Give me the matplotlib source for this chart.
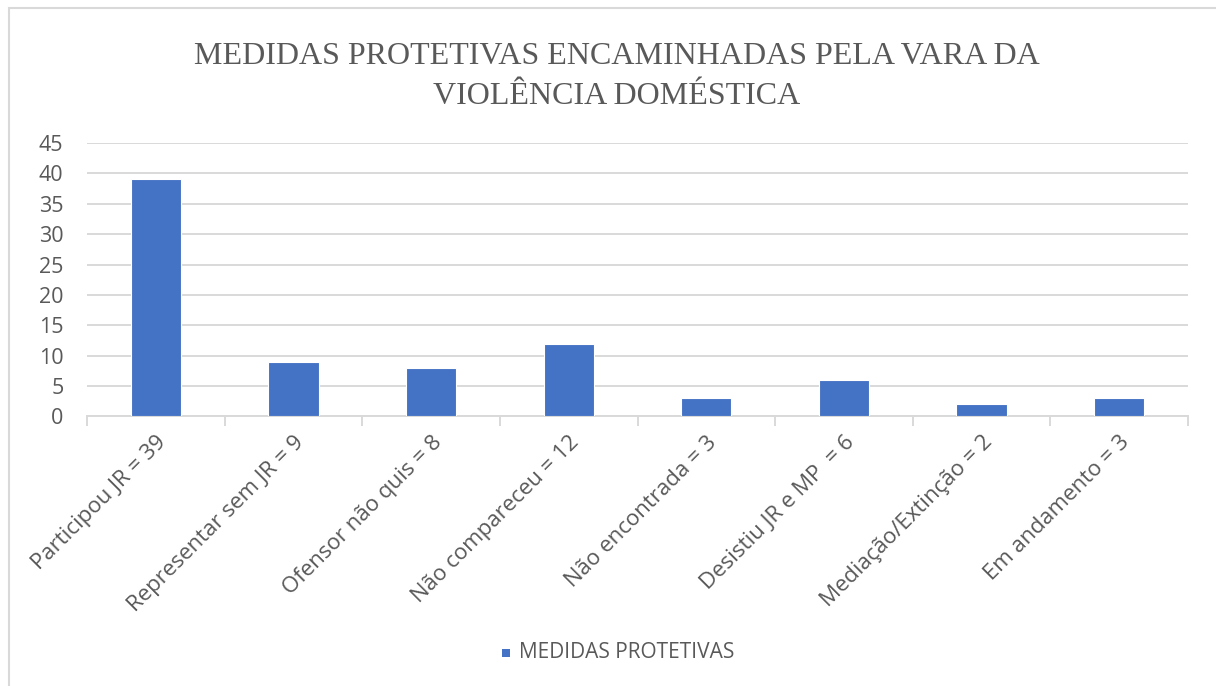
import matplotlib
matplotlib.use("Agg")
import matplotlib.pyplot as plt
from matplotlib.patches import Rectangle
import numpy as np

title = "MEDIDAS PROTETIVAS ENCAMINHADAS PELA VARA DA\nVIOLÊNCIA DOMÉSTICA"
categories = ["Participou JR = 39", "Representar sem JR = 9", "Ofensor não quis = 8",
              "Não compareceu = 12", "Não encontrada = 3", "Desistiu JR e MP  = 6",
              "Mediação/Extinção = 2", "Em andamento = 3"]
values = [39, 9, 8, 12, 3, 6, 2, 3]
series_name = "MEDIDAS PROTETIVAS"
yticks = [0, 5, 10, 15, 20, 25, 30, 35, 40, 45]

W, H = 1216, 686
fig = plt.figure(figsize=(W / 100, H / 100), dpi=100)
fig.patch.set_facecolor("white")

# chart frame (top & left visible)
fig.add_artist(Rectangle((9 / W, -0.1), 1.2, (H - 8) / H + 0.1, transform=fig.transFigure,
                         fill=False, edgecolor="#d9d9d9", linewidth=1.5))

left, right, top, bottom = 87, 1188, 143, 416.5
ax = fig.add_axes([left / W, 1 - bottom / H, (right - left) / W, (bottom - top) / H])

x = np.arange(len(categories))
ax.bar(x, values, width=0.365, color="#4472C4", edgecolor="white", linewidth=0.8, zorder=3)
ax.set_xlim(-0.5, len(categories) - 0.5)
ax.set_ylim(0, 45)
ax.set_yticks(yticks)
ax.yaxis.grid(True, color="#d9d9d9", linewidth=1.4, zorder=0)
ax.set_axisbelow(True)
for s in ["top", "right", "left"]:
    ax.spines[s].set_visible(False)
ax.spines["bottom"].set_color("#d9d9d9")
ax.spines["bottom"].set_linewidth(1.4)
ax.tick_params(axis="y", length=0, pad=17, labelsize=15.5, labelcolor="#595959")
for lab in ax.get_yticklabels():
    lab.set_fontfamily("Open Sans")

# category boundaries ticks
ax.set_xticks(np.arange(-0.5, len(categories), 1.0))
ax.set_xticklabels([])
ax.tick_params(axis="x", which="major", length=7, width=1.4, color="#d9d9d9")
ax.set_xticks(x, minor=True)
ax.set_xticklabels(categories, minor=True, rotation=45, ha="right", rotation_mode="anchor",
                   fontsize=16, color="#595959", fontfamily="Open Sans")
ax.tick_params(axis="x", which="minor", length=0, pad=11)

fig.text(617 / W, 1 - 77 / H, title, ha="center", va="center", fontsize=23,
         fontfamily="Liberation Serif", color="#595959", linespacing=1.5)

# legend
fig.add_artist(Rectangle((502 / W, 1 - 657 / H), 8 / W, 8 / H, transform=fig.transFigure,
                         facecolor="#4472C4", edgecolor="none"))
fig.text(519 / W, 1 - 652 / H, series_name, ha="left", va="center", fontsize=15,
         fontfamily="Open Sans", color="#595959")

fig.savefig("out.png", dpi=100, facecolor="white")
